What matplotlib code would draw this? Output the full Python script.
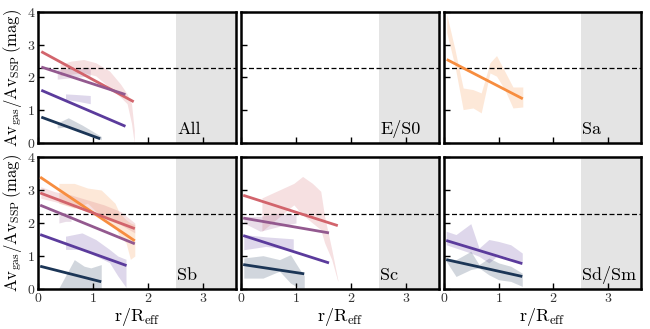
import matplotlib
matplotlib.use("Agg")
import matplotlib.pyplot as plt
import numpy as np

plt.rcParams['font.family'] = ['serif']
plt.rcParams['font.serif'] = ['cmr10', 'DejaVu Serif']
plt.rcParams['mathtext.fontset'] = 'cm'
plt.rcParams['axes.formatter.use_mathtext'] = True

# colours for the morphological bins
C_NAVY = '#1b3556'
C_PURP = '#5b3b9c'
C_MAUV = '#93598f'
C_RED = '#d2646c'
C_ORNG = '#f78d3f'

panel_names = ['All', 'E/S0', 'Sa', 'Sb', 'Sc', 'Sd/Sm']
ref_level = 2.28
xmax = 3.6
shade_start = 2.5

# fitted lines: (x0, y0, x1, y1)
lines = {
    'All': [(C_RED, 0.06, 2.79, 1.74, 1.26),
            (C_MAUV, 0.06, 2.32, 1.59, 1.48),
            (C_PURP, 0.06, 1.61, 1.59, 0.51),
            (C_NAVY, 0.06, 0.79, 1.13, 0.13)],
    'E/S0': [],
    'Sa': [(C_ORNG, 0.05, 2.55, 1.44, 1.35)],
    'Sb': [(C_ORNG, 0.04, 3.39, 1.76, 1.46),
           (C_RED, 0.04, 2.91, 1.76, 1.83),
           (C_MAUV, 0.04, 2.54, 1.76, 1.37),
           (C_PURP, 0.04, 1.65, 1.61, 0.71),
           (C_NAVY, 0.04, 0.69, 1.15, 0.22)],
    'Sc': [(C_RED, 0.04, 2.84, 1.76, 1.92),
           (C_MAUV, 0.04, 2.15, 1.60, 1.70),
           (C_PURP, 0.04, 1.62, 1.60, 0.79),
           (C_NAVY, 0.04, 0.74, 1.15, 0.46)],
    'Sd/Sm': [(C_PURP, 0.04, 1.47, 1.43, 0.77),
              (C_NAVY, 0.04, 0.89, 1.43, 0.38)],
}

# shaded spread bands: (colour, x, lower, upper)
bands = {
    'All': [
        (C_RED, [0.40, 0.60, 0.83, 1.05, 1.30, 1.50, 1.62, 1.70, 1.75],
                [2.05, 2.10, 2.15, 2.05, 1.70, 1.40, 1.20, 0.60, 0.00],
                [2.40, 2.50, 2.55, 2.45, 2.20, 1.80, 1.50, 1.20, 0.40]),
        (C_MAUV, [0.35, 0.65, 0.95], [1.95, 2.00, 2.05], [2.25, 2.28, 2.30]),
        (C_PURP, [0.50, 0.70, 0.95], [1.33, 1.28, 1.20], [1.50, 1.48, 1.45]),
        (C_NAVY, [0.35, 0.55, 0.80, 0.95, 1.15], [0.46, 0.50, 0.36, 0.20, 0.10],
                 [0.61, 0.77, 0.55, 0.40, 0.20]),
    ],
    'E/S0': [],
    'Sa': [
        (C_ORNG, [0.05, 0.20, 0.35, 0.53, 0.68, 0.84, 0.96, 1.11, 1.26, 1.44],
                 [3.37, 2.35, 1.02, 1.07, 0.92, 2.14, 2.04, 1.63, 1.07, 1.10],
                 [3.93, 2.86, 1.68, 1.63, 1.53, 2.45, 2.67, 2.19, 1.71, 1.71]),
    ],
    'Sb': [
        (C_ORNG, [0.38, 0.66, 0.90, 1.15, 1.40, 1.48, 1.60, 1.68, 1.76],
                 [2.60, 2.45, 2.60, 2.20, 1.90, 1.60, 1.40, 0.90, 1.00],
                 [3.20, 3.20, 3.06, 3.00, 2.60, 2.30, 2.10, 2.00, 1.95]),
        (C_RED, [0.05, 0.30, 0.60, 0.90, 1.20, 1.50, 1.76],
                [2.75, 2.65, 2.50, 2.35, 2.15, 1.95, 1.70],
                [3.10, 2.95, 2.85, 2.70, 2.55, 2.35, 2.00]),
        (C_MAUV, [0.38, 0.50, 0.60], [2.00, 2.05, 2.05], [2.35, 2.30, 2.30]),
        (C_PURP, [0.50, 0.80, 1.05, 1.30, 1.45, 1.60],
                 [1.20, 1.20, 1.00, 0.80, 0.40, 0.05],
                 [1.60, 1.70, 1.50, 1.20, 1.00, 0.90]),
        (C_NAVY, [0.38, 0.66, 0.84, 0.96, 1.15], [0.00, 0.00, 0.00, 0.00, 0.00],
                 [0.03, 0.89, 0.69, 0.64, 0.74]),
    ],
    'Sc': [
        (C_RED, [0.38, 0.96, 1.12, 1.30, 1.45, 1.52, 1.65, 1.76],
                [1.75, 2.55, 2.25, 2.00, 1.80, 1.40, 0.89, 0.23],
                [2.76, 3.20, 3.41, 3.20, 2.96, 2.20, 1.20, 0.28]),
        (C_MAUV, [0.05, 0.35, 0.70, 1.00], [2.00, 1.75, 1.90, 2.00], [2.20, 2.20, 2.30, 2.25]),
        (C_PURP, [0.05, 0.45, 0.95], [1.19, 1.29, 1.19], [1.65, 1.58, 1.52]),
        (C_NAVY, [0.05, 0.40, 0.70, 0.90, 1.05, 1.15],
                 [0.33, 0.33, 0.54, 0.18, 0.03, 0.03],
                 [0.94, 1.01, 0.89, 1.04, 0.64, 0.40]),
    ],
    'Sd/Sm': [
        (C_PURP, [0.04, 0.22, 0.49, 0.64, 0.82, 1.00, 1.22, 1.43],
                 [1.34, 1.24, 1.09, 0.99, 0.79, 1.04, 0.94, 0.74],
                 [1.75, 1.65, 1.98, 1.24, 1.50, 1.44, 1.34, 1.09]),
        (C_NAVY, [0.04, 0.22, 0.49, 0.64, 0.82, 1.00, 1.22, 1.43],
                 [0.84, 0.38, 0.59, 0.64, 0.43, 0.28, 0.23, 0.08],
                 [0.94, 0.89, 1.14, 0.74, 0.94, 0.79, 0.69, 0.48]),
    ],
}

W, H = 650, 329
fig = plt.figure(figsize=(W / 100, H / 100), dpi=100)
lefts = [38, 241, 444]
widths = [198, 198, 197]
tops = [12, 157]
heights = [131, 132]

ylabel = r'$\mathrm{Av_{gas}/Av_{SSP}\,(mag)}$'
xlabel = r'$\mathrm{r/R_{eff}}$'

for i, name in enumerate(panel_names):
    row, col = divmod(i, 3)
    l, w = lefts[col], widths[col]
    t, h = tops[row], heights[row]
    ax = fig.add_axes([l / W, 1 - (t + h) / H, w / W, h / H])
    ax.set_xlim(0, xmax)
    ax.set_ylim(0, 4)
    ax.axvspan(shade_start, xmax, color='#e4e4e4', lw=0, zorder=0)
    for c, xs, lo, hi in bands[name]:
        ax.fill_between(xs, lo, hi, color=c, alpha=0.2, lw=0, zorder=1)
    for c, x0, y0, x1, y1 in lines[name]:
        ax.plot([x0, x1], [y0, y1], color=c, lw=2.0, solid_capstyle='butt', zorder=3)
    ax.axhline(ref_level, color='black', lw=0.9, ls=(0, (4, 2)), zorder=2)
    ax.text(2.53, 0.28, name, fontsize=13, color='black', zorder=4)
    for s in ax.spines.values():
        s.set_linewidth(1.8)
    ax.set_xticks([0, 1, 2, 3])
    ax.set_yticks([0, 1, 2, 3, 4])
    ax.tick_params(direction='in', length=4, width=1, labelsize=10,
                   labelcolor='#333333', pad=2)
    if col != 0:
        ax.set_yticklabels([])
    else:
        ax.set_ylabel(ylabel, fontsize=12, labelpad=2)
    if row == 0:
        ax.set_xticklabels([])
    else:
        ax.set_xlabel(xlabel, fontsize=13, labelpad=1)

fig.savefig('out.png', dpi=100)
